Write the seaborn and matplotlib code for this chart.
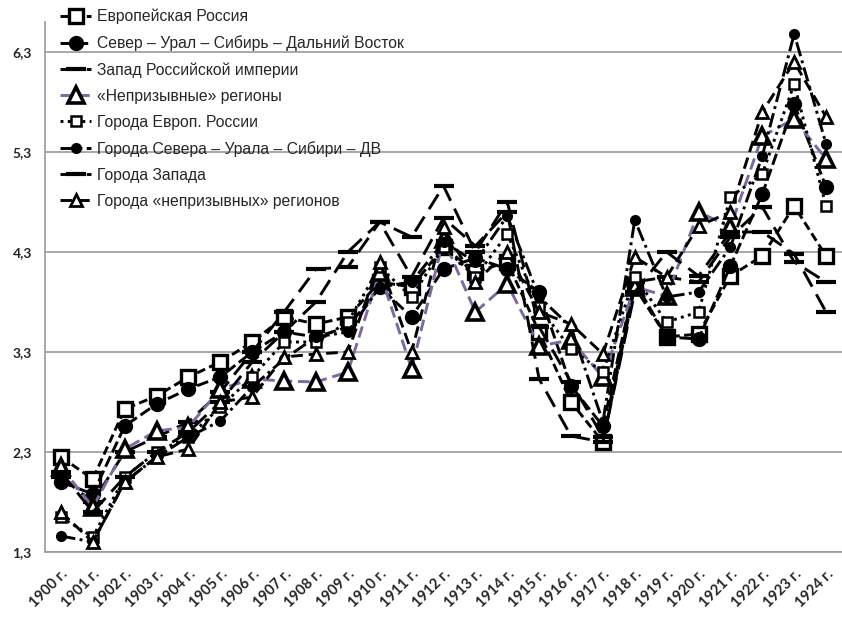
import pandas as pd
import matplotlib
matplotlib.use("Agg")
import matplotlib.pyplot as plt
import seaborn as sns

# categories
years = ['1900 г.', '1901 г.', '1902 г.', '1903 г.', '1904 г.', '1905 г.', '1906 г.',
         '1907 г.', '1908 г.', '1909 г.', '1910 г.', '1911 г.', '1912 г.', '1913 г.',
         '1914 г.', '1915 г.', '1916 г.', '1917 г.', '1918 г.', '1919 г.', '1920 г.',
         '1921 г.', '1922 г.', '1923 г.', '1924 г.']
yticks = [1.3, 2.3, 3.3, 4.3, 5.3, 6.3]

# series values
evr_russia = [2.25, 2.03, 2.73, 2.86, 3.05, 3.20, 3.40, 3.65, 3.58, 3.65, 4.00, 3.95, 4.35,
              4.10, 4.20, 3.50, 2.80, 2.40, 3.95, 3.45, 3.48, 4.06, 4.26, 4.76, 4.26]
sever = [2.00, 1.88, 2.56, 2.78, 2.93, 3.05, 3.30, 3.50, 3.45, 3.55, 3.95, 3.65, 4.13,
         4.24, 4.13, 3.90, 2.96, 2.56, 4.00, 3.45, 3.43, 4.16, 4.88, 5.78, 4.95]
zapad = [2.05, 1.80, 2.30, 2.45, 2.60, 2.90, 3.30, 3.70, 4.13, 4.15, 4.60, 4.45, 4.96,
         4.30, 4.80, 3.55, 3.00, 2.45, 4.00, 4.05, 4.00, 4.45, 4.75, 4.20, 4.00]
nepriz = [2.15, 1.75, 2.33, 2.51, 2.55, 2.93, 3.03, 3.01, 3.00, 3.10, 4.10, 3.13, 4.43,
          3.70, 3.98, 3.36, 3.42, 3.05, 3.95, 3.86, 4.70, 4.55, 5.46, 5.63, 5.23]
goroda_evr = [1.65, 1.45, 2.05, 2.30, 2.45, 2.75, 3.05, 3.40, 3.40, 3.60, 4.15, 3.85, 4.35,
              4.05, 4.48, 3.75, 3.33, 3.10, 4.05, 3.60, 3.70, 4.85, 5.08, 5.98, 4.76]
goroda_sever = [1.46, 1.40, 2.00, 2.25, 2.45, 2.61, 2.95, 3.23, 3.45, 3.50, 3.95, 4.00, 4.40,
                4.20, 4.66, 3.85, 3.55, 2.60, 4.62, 3.85, 3.90, 4.35, 5.26, 6.48, 5.38]
goroda_zapada = [2.10, 1.70, 2.05, 2.30, 2.50, 2.80, 3.20, 3.50, 3.80, 4.30, 4.60, 4.05, 4.64,
                 4.36, 4.70, 3.03, 2.46, 2.40, 3.90, 4.30, 4.06, 4.50, 4.50, 4.28, 3.70]
goroda_nepriz = [1.70, 1.40, 2.00, 2.25, 2.33, 2.80, 2.85, 3.25, 3.28, 3.30, 4.20, 3.30, 4.55,
                 4.00, 4.30, 3.70, 3.58, 3.28, 4.25, 4.05, 4.56, 4.70, 5.70, 6.20, 5.65]

labels = ['Европейская Россия',
          'Север – Урал – Сибирь – Дальний Восток',
          'Запад Российской империи',
          '«Непризывные» регионы',
          'Города Европ. России',
          'Города Севера – Урала – Сибири – ДВ',
          'Города Запада',
          'Города «непризывных» регионов']
series = [evr_russia, sever, zapad, nepriz, goroda_evr, goroda_sever, goroda_zapada, goroda_nepriz]

# line / marker styles
styles = [
    dict(color='black', linestyle=(0, (3, 1.5)), marker='s', markersize=10.5, markeredgewidth=2.4,
         markerfacecolor='white', markeredgecolor='black'),
    dict(color='black', linestyle=(0, (4, 1.5)), marker='o', markersize=10, markeredgewidth=1,
         markerfacecolor='black', markeredgecolor='black'),
    dict(color='black', linestyle=(0, (6, 3)), marker='_', markersize=14, markeredgewidth=3,
         markerfacecolor='black', markeredgecolor='black'),
    dict(color='#7B6A9E', linestyle=(0, (4, 2)), marker='^', markersize=12, markeredgewidth=2.6,
         markerfacecolor='white', markeredgecolor='black'),
    dict(color='black', linestyle=(0, (1, 1.5)), marker='s', markersize=7, markeredgewidth=1.8,
         markerfacecolor='white', markeredgecolor='black'),
    dict(color='black', linestyle=(0, (5, 1.5, 1, 1.5)), marker='o', markersize=7, markeredgewidth=1,
         markerfacecolor='black', markeredgecolor='black'),
    dict(color='black', linestyle=(0, (6, 3)), marker='_', markersize=14, markeredgewidth=3,
         markerfacecolor='black', markeredgecolor='black'),
    dict(color='black', linestyle=(0, (4, 2)), marker='^', markersize=9, markeredgewidth=2,
         markerfacecolor='white', markeredgecolor='black'),
]

sns.set_style('white')
plt.rcParams['font.family'] = ['Liberation Sans', 'DejaVu Sans']

fig = plt.figure(figsize=(8.42, 6.17), dpi=100)
ax = fig.add_axes([45 / 842, 1 - 552 / 617, 797 / 842, 530 / 617])

pos = list(range(len(years)))
for vals, lab, st in zip(series, labels, styles):
    df = pd.DataFrame({'x': pos, 'y': vals})
    sns.lineplot(data=df, x='x', y='y', ax=ax, label=lab, linewidth=2.1, **st)

# axes
ax.set_xlim(-0.5, len(years) - 0.5)
ax.set_ylim(1.3, 6.6)
ax.set_yticks(yticks)
ax.set_yticklabels([str(v).replace('.', ',') for v in yticks], fontweight='bold',
                   fontsize=10, family='Lato')
ax.set_xticks(pos)
ax.set_xticklabels(years, rotation=45, ha='right', rotation_mode='anchor',
                   fontweight='bold', fontsize=10.5, family='Lato')
ax.set_xticks([p - 0.5 for p in pos] + [len(years) - 0.5], minor=True)
ax.tick_params(axis='x', which='major', length=0, pad=11)
ax.tick_params(axis='x', which='minor', length=5, color='#999999', width=1.2, direction='out')
ax.tick_params(axis='y', length=5, color='#999999', width=1.2, direction='inout', pad=7)
ax.grid(axis='y', color='#999999', linewidth=1.2)
ax.set_axisbelow(True)
ax.set_xlabel('')
ax.set_ylabel('')
for s in ['top', 'right']:
    ax.spines[s].set_visible(False)
for s in ['left', 'bottom']:
    ax.spines[s].set_color('#999999')
    ax.spines[s].set_linewidth(1.2)

ax.legend(loc='upper left', bbox_to_anchor=(60 / 842, 1 - 9 / 617), bbox_transform=fig.transFigure,
          frameon=False, fontsize=11.3, handlelength=2, handletextpad=0.35, labelspacing=0.7,
          borderpad=0, borderaxespad=0)

fig.savefig('out.png', dpi=100)
